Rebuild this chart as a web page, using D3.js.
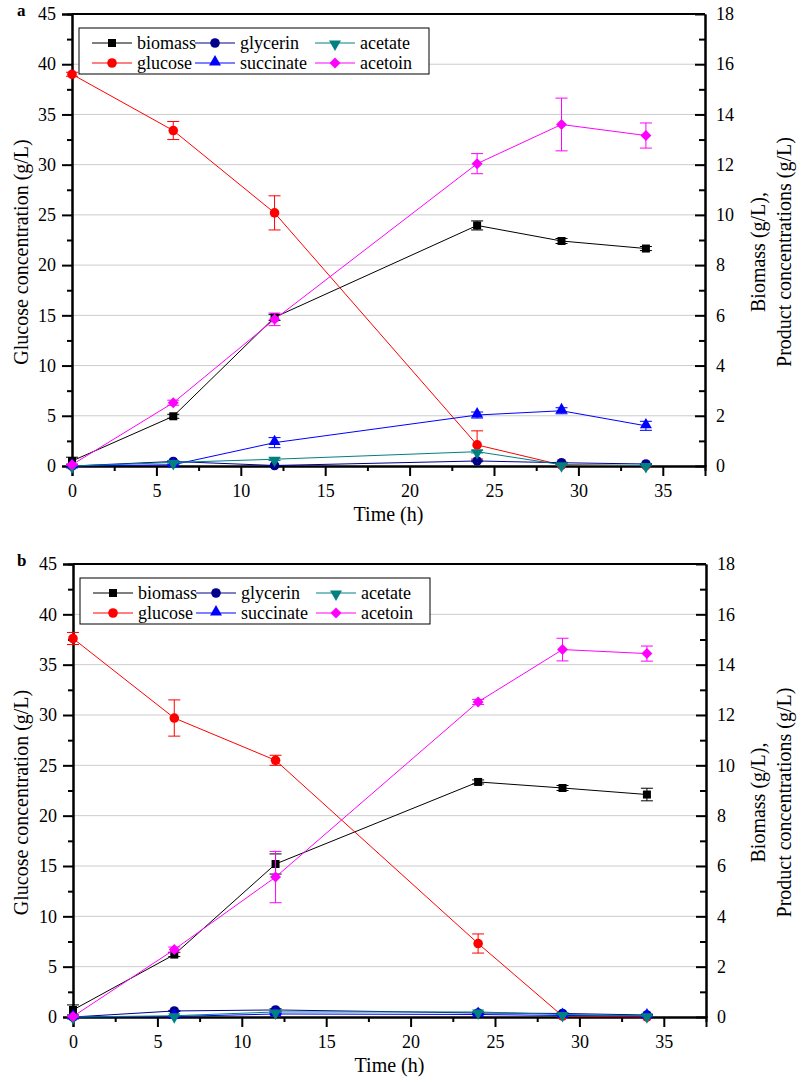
<!DOCTYPE html>
<html>
<head>
<meta charset="utf-8">
<script src="https://cdn.jsdelivr.net/npm/d3@7"></script>
<style>
  html, body { margin: 0; padding: 0; background: #fff; }
  svg { display: block; }
  svg text { font-family: "Liberation Serif", "Times New Roman", Times, "DejaVu Serif", serif !important; fill: #000; }
</style>
</head>
<body>
<svg id="chart" width="797" height="1082" font-family="Liberation Serif, Times New Roman, serif"></svg>
<script>
// ---------- DATA ----------
const time = [0, 6, 12, 24, 29, 34];
const seriesNames = ["biomass", "glucose", "glycerin", "succinate", "acetate", "acetoin"];
const xTicks = [0, 5, 10, 15, 20, 25, 30, 35];
const leftTicks = [0, 5, 10, 15, 20, 25, 30, 35, 40, 45];
const rightTicks = [0, 2, 4, 6, 8, 10, 12, 14, 16, 18];
const panelLabels = ["a", "b"];

// Panel a (glucose on left axis g/L; others on right axis g/L)
const glucoseA      = [39.0, 33.4, 25.2, 2.1, 0.1, 0.05];
const glucoseAErr   = [0.2, 0.9, 1.7, 1.4, 0.05, 0.0];
const biomassA      = [0.2, 1.98, 5.92, 9.58, 8.96, 8.66];
const biomassAErr   = [0.15, 0.08, 0.12, 0.18, 0.1, 0.08];
const glycerinA     = [0.0, 0.18, 0.02, 0.2, 0.13, 0.08];
const glycerinAErr  = [0.0, 0.03, 0.0, 0.03, 0.02, 0.02];
const succinateA    = [0.0, 0.05, 0.93, 2.03, 2.2, 1.6];
const succinateAErr = [0.0, 0.02, 0.2, 0.12, 0.12, 0.18];
const acetateA      = [0.0, 0.14, 0.27, 0.57, 0.05, 0.02];
const acetateAErr   = [0.0, 0.02, 0.05, 0.05, 0.02, 0.01];
const acetoinA      = [0.05, 2.52, 5.84, 12.04, 13.6, 13.16];
const acetoinAErr   = [0.02, 0.1, 0.25, 0.4, 1.05, 0.5];

// Panel b
const glucoseB      = [37.6, 29.7, 25.5, 7.3, 0.1, 0.0];
const glucoseBErr   = [0.6, 1.8, 0.5, 0.95, 0.05, 0.0];
const biomassB      = [0.28, 2.48, 6.08, 9.34, 9.1, 8.84];
const biomassBErr   = [0.2, 0.08, 0.4, 0.08, 0.1, 0.25];
const glycerinB     = [0.0, 0.24, 0.28, 0.16, 0.14, 0.08];
const glycerinBErr  = [0.0, 0.02, 0.05, 0.02, 0.02, 0.02];
const succinateB    = [0.0, 0.02, 0.12, 0.1, 0.06, 0.04];
const succinateBErr = [0.0, 0.01, 0.02, 0.02, 0.01, 0.01];
const acetateB      = [0.0, 0.05, 0.2, 0.2, 0.1, 0.05];
const acetateBErr   = [0.0, 0.01, 0.02, 0.02, 0.01, 0.01];
const acetoinB      = [0.02, 2.68, 5.56, 12.52, 14.6, 14.44];
const acetoinBErr   = [0.02, 0.1, 1.02, 0.1, 0.45, 0.3];

// ---------- STYLE ----------
const styles = {
  biomass:   { color: "#000000", shape: "square" },
  glucose:   { color: "#ff0000", shape: "circle" },
  glycerin:  { color: "#00008b", shape: "circle" },
  succinate: { color: "#0000ff", shape: "triUp" },
  acetate:   { color: "#008080", shape: "triDown" },
  acetoin:   { color: "#ff00ff", shape: "diamond" }
};

const panels = [
  { label: panelLabels[0], top: 14, bottom: 466, left: 72, right: 705,
    values: { biomass: biomassA, glucose: glucoseA, glycerin: glycerinA, succinate: succinateA, acetate: acetateA, acetoin: acetoinA },
    errors: { biomass: biomassAErr, glucose: glucoseAErr, glycerin: glycerinAErr, succinate: succinateAErr, acetate: acetateAErr, acetoin: acetoinAErr } },
  { label: panelLabels[1], top: 564, bottom: 1017, left: 73, right: 706,
    values: { biomass: biomassB, glucose: glucoseB, glycerin: glycerinB, succinate: succinateB, acetate: acetateB, acetoin: acetoinB },
    errors: { biomass: biomassBErr, glucose: glucoseBErr, glycerin: glycerinBErr, succinate: succinateBErr, acetate: acetateBErr, acetoin: acetoinBErr } }
];

const svg = d3.select("#chart");

function symbolPath(shape) {
  if (shape === "square") return d3.symbol(d3.symbolSquare, 64)();
  if (shape === "circle") return d3.symbol(d3.symbolCircle, 72)();
  if (shape === "triUp" || shape === "triDown") return d3.symbol(d3.symbolTriangle, 62)();
  if (shape === "diamond") return d3.symbol(d3.symbolSquare, 60)();
  return d3.symbol()();
}
function symbolTransform(shape, x, y) {
  if (shape === "triDown") return `translate(${x},${y + 1}) rotate(180)`;
  if (shape === "triUp") return `translate(${x},${y - 1})`;
  if (shape === "diamond") return `translate(${x},${y}) rotate(45)`;
  return `translate(${x},${y})`;
}

panels.forEach(p => {
  const g = svg.append("g");
  const x = d3.scaleLinear().domain([0, 37.5]).range([p.left, p.right]);
  const yL = d3.scaleLinear().domain([0, 45]).range([p.bottom, p.top]);
  const yR = d3.scaleLinear().domain([0, 18]).range([p.bottom, p.top]);

  // gridlines
  g.append("g").selectAll("line").data(leftTicks.filter(t => t > 0 && t < 45)).join("line")
    .attr("x1", p.left).attr("x2", p.right)
    .attr("y1", d => yL(d)).attr("y2", d => yL(d))
    .attr("stroke", "#cccccc").attr("stroke-width", 1);

  // left axis
  const leftAxis = d3.axisLeft(yL).tickValues(leftTicks).tickSize(10).tickPadding(6).tickFormat(d3.format("d"));
  g.append("g").attr("transform", `translate(${p.left},0)`).call(leftAxis);
  const laMinor = d3.axisLeft(yL).tickValues(d3.range(2.5, 45, 5)).tickSize(5).tickFormat("");
  g.append("g").attr("transform", `translate(${p.left},0)`).call(laMinor);

  // right axis (ticks inward)
  const rightAxis = d3.axisRight(yR).tickValues(rightTicks).tickSizeInner(-10).tickSizeOuter(0).tickPadding(11).tickFormat(d3.format("d"));
  g.append("g").attr("transform", `translate(${p.right},0)`).call(rightAxis);
  const raMinor = d3.axisRight(yR).tickValues(d3.range(1, 18, 2)).tickSizeInner(-6).tickSizeOuter(0).tickFormat("");
  g.append("g").attr("transform", `translate(${p.right},0)`).call(raMinor);

  // bottom axis
  const bottomAxis = d3.axisBottom(x).tickValues(xTicks).tickSize(10).tickPadding(8).tickFormat(d3.format("d"));
  g.append("g").attr("transform", `translate(0,${p.bottom})`).call(bottomAxis);
  const baMinor = d3.axisBottom(x).tickValues(d3.range(2.5, 37.5, 5)).tickSize(5).tickFormat("");
  g.append("g").attr("transform", `translate(0,${p.bottom})`).call(baMinor);

  // top frame line
  g.append("line").attr("x1", p.left).attr("x2", p.right).attr("y1", p.top).attr("y2", p.top)
    .attr("stroke", "#000").attr("stroke-width", 2);

  g.selectAll("g").attr("font-family", null);
  g.selectAll(".domain").attr("stroke", "#000").attr("stroke-width", 2);
  g.selectAll(".tick line").attr("stroke", "#000").attr("stroke-width", 2);
  g.selectAll(".tick text").style("font-size", "18px").attr("fill", "#000");

  // series
  const order = ["biomass", "glucose", "glycerin", "succinate", "acetate", "acetoin"];
  order.forEach(name => {
    const st = styles[name];
    const yS = name === "glucose" ? yL : yR;
    const vals = p.values[name];
    const errs = p.errors[name];
    const pts = time.map((t, i) => ({ t, v: vals[i], e: errs[i] }));
    const line = d3.line().x(d => x(d.t)).y(d => yS(d.v));
    const sg = g.append("g");
    sg.append("path").datum(pts).attr("d", line).attr("fill", "none")
      .attr("stroke", st.color).attr("stroke-width", 1);
    const eb = sg.append("g").selectAll("g").data(pts.filter(d => d.e > 0)).join("g");
    eb.append("line").attr("x1", d => x(d.t)).attr("x2", d => x(d.t))
      .attr("y1", d => yS(d.v + d.e)).attr("y2", d => yS(Math.max(0, d.v - d.e)))
      .attr("stroke", st.color).attr("stroke-width", 1);
    eb.append("line").attr("x1", d => x(d.t) - 6).attr("x2", d => x(d.t) + 6)
      .attr("y1", d => yS(d.v + d.e)).attr("y2", d => yS(d.v + d.e))
      .attr("stroke", st.color).attr("stroke-width", 1);
    eb.append("line").attr("x1", d => x(d.t) - 6).attr("x2", d => x(d.t) + 6)
      .attr("y1", d => yS(Math.max(0, d.v - d.e))).attr("y2", d => yS(Math.max(0, d.v - d.e)))
      .attr("stroke", st.color).attr("stroke-width", 1);
    sg.append("g").selectAll("path").data(pts).join("path")
      .attr("d", symbolPath(st.shape))
      .attr("transform", d => symbolTransform(st.shape, x(d.t), yS(d.v)))
      .attr("fill", st.color);
  });

  // legend
  const lg = g.append("g");
  lg.append("rect").attr("x", p.left + 7).attr("y", p.top + 14).attr("width", 350).attr("height", 46)
    .attr("fill", "#fff").attr("stroke", "#000").attr("stroke-width", 1);
  const colX = [p.left + 20, p.left + 123, p.left + 243];
  const rowY = [p.top + 29, p.top + 49];
  seriesNames.forEach((name, i) => {
    const col = Math.floor(i / 2), row = i % 2;
    const lx = colX[col], ly = rowY[row];
    const st = styles[name];
    lg.append("line").attr("x1", lx).attr("x2", lx + 40).attr("y1", ly).attr("y2", ly)
      .attr("stroke", st.color).attr("stroke-width", 1);
    lg.append("path").attr("d", symbolPath(st.shape)).attr("transform", symbolTransform(st.shape, lx + 20, ly)).attr("fill", st.color);
    lg.append("text").attr("x", lx + 45).attr("y", ly + 6).style("font-size", "18px").text(name);
  });

  // axis titles
  const midY = (p.top + p.bottom) / 2 + 12;
  g.append("text").attr("transform", `translate(28,${midY}) rotate(-90)`).attr("text-anchor", "middle")
    .style("font-size", "20px").text("Glucose concentration (g/L)");
  g.append("text").attr("transform", `translate(765,${midY}) rotate(-90)`).attr("text-anchor", "middle")
    .style("font-size", "20px").text("Biomass (g/L),");
  g.append("text").attr("transform", `translate(791,${midY}) rotate(-90)`).attr("text-anchor", "middle")
    .style("font-size", "20px").text("Product concentrations (g/L)");
  g.append("text").attr("x", (p.left + p.right) / 2).attr("y", p.bottom + 55).attr("text-anchor", "middle")
    .style("font-size", "20px").text("Time (h)");
  g.append("text").attr("x", 17).attr("y", p.top + 2).style("font-size", "17px").style("font-weight", "bold").text(p.label);
});
</script>
</body>
</html>
